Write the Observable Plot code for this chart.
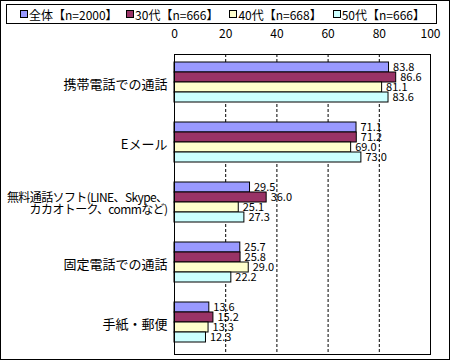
<!DOCTYPE html>
<html>
<head>
<meta charset="utf-8">
<script src="https://cdn.jsdelivr.net/npm/d3@7"></script>
<script src="https://cdn.jsdelivr.net/npm/@observablehq/plot@0.6"></script>
<style>
  html, body { margin: 0; padding: 0; background: #fff; }
  #wrap { position: relative; width: 450px; height: 360px; box-sizing: border-box; border: 1px solid #000; background: #fff; overflow: hidden; }
  #legend { position: absolute; left: 5px; top: 3px; width: 431px; height: 20px; box-sizing: border-box; border: 1px solid #000;
    display: flex; align-items: center; justify-content: flex-start; padding: 0 0 0 13px;
    font-family: 'Noto Sans CJK JP', sans-serif; font-size: 12px; color: #000; }
  #legend .item { display: flex; align-items: center; white-space: nowrap; width: 110px; }
  #legend .item:first-child { width: 113px; }
  #legend .sw { display: inline-block; width: 6px; height: 6px; border: 1px solid #000; margin-right: 1px; }
  #chart { position: absolute; left: 0; top: 23px; }
</style>
</head>
<body>
<div id="wrap">
  <div id="legend"></div>
  <div id="chart"></div>
</div>
<script>
const categories = ["携帯電話での通話", "Eメール", "無料通話ソフト(LINE、Skype、\nカカオトーク、commなど)", "固定電話での通話", "手紙・郵便"];
const series = ["全体【n=2000】", "30代【n=666】", "40代【n=668】", "50代【n=666】"];
const colors = ["#9999ff", "#993366", "#ffffcc", "#ccffff"];
const valuesAll = [83.8, 71.1, 29.5, 25.7, 13.6];
const values30 = [86.6, 71.2, 36.0, 25.8, 15.2];
const values40 = [81.1, 69.0, 25.1, 29.0, 13.3];
const values50 = [83.6, 73.0, 27.3, 22.2, 12.3];
const xTicks = [0, 20, 40, 60, 80, 100];
const gridTicks = [20, 40, 60, 80];

const seriesValues = [valuesAll, values30, values40, values50];
const data = [];
categories.forEach((c, i) => {
  series.forEach((s, j) => {
    data.push({category: c, series: s, value: seriesValues[j][i]});
  });
});

// legend
const legend = document.getElementById("legend");
series.forEach((s, j) => {
  const it = document.createElement("div");
  it.className = "item";
  const sw = document.createElement("span");
  sw.className = "sw";
  sw.style.background = colors[j];
  it.appendChild(sw);
  it.appendChild(document.createTextNode(s));
  legend.appendChild(it);
});

const chart = Plot.plot({
  width: 448,
  height: 335,
  marginTop: 29,
  marginBottom: 5,
  marginLeft: 173,
  marginRight: 19,
  style: {fontFamily: "'Noto Sans CJK JP', sans-serif", fontSize: "12px", background: "transparent", color: "#000", overflow: "visible"},
  x: {domain: [0, 100], axis: null},
  y: {domain: series, paddingInner: 0, paddingOuter: 0.8, align: 0.4, axis: null},
  fy: {domain: categories, padding: 0, axis: null},
  color: {domain: series, range: colors},
  marks: [
    Plot.ruleX(gridTicks, {stroke: "#000", strokeDasharray: "3,2", strokeWidth: 1}),
    Plot.barX(data, {x: "value", y: "series", fy: "category", fill: "series", stroke: "#000", strokeWidth: 1}),
    Plot.text(data, {x: "value", y: "series", fy: "category", text: d => d.value.toFixed(1), textAnchor: "start", dx: 4, fontSize: 11, fill: "#000"}),
    Plot.axisX({anchor: "top", ticks: xTicks, tickSize: 0, tickPadding: 17, fontSize: 12, label: null}),
    Plot.axisFy({anchor: "left", tickSize: 0, tickPadding: 7, fontSize: 13, label: null}),
    Plot.frame({facet: "super", stroke: "#000"})
  ]
});
document.getElementById("chart").appendChild(chart);

// tighten the long two-line category label so it fits, as in the reference
d3.select(chart).selectAll("text").filter(function() {
  return this.textContent.indexOf("無料") >= 0;
}).style("font-size", "12px").style("letter-spacing", "-0.6px");
</script>
</body>
</html>
